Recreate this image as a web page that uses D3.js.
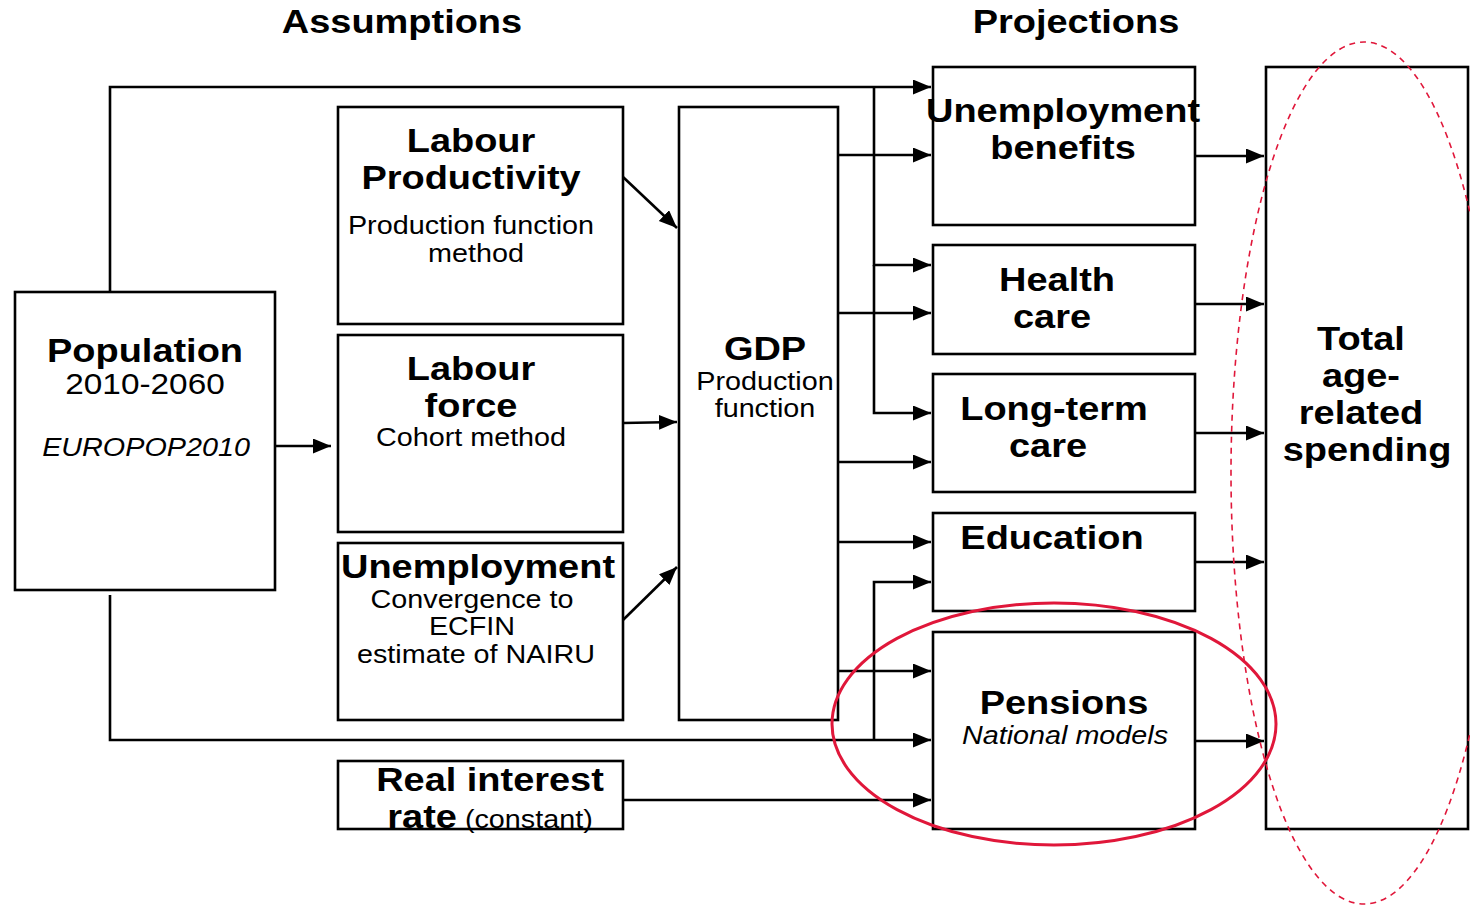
<!DOCTYPE html>
<html><head><meta charset="utf-8">
<script src="https://cdn.jsdelivr.net/npm/d3@7"></script>
<style>html,body{margin:0;padding:0;background:#fff;}svg{display:block;font-family:"Liberation Sans",Arial,sans-serif;}</style>
</head><body>
<svg id="chart" width="1470" height="905"></svg>
<script>
// ---- data ----
const headings = ["Assumptions", "Projections"];
const assumptionNodes = ["Population", "Labour Productivity", "Labour force", "Unemployment", "Real interest rate"];
const coreNodes = ["GDP"];
const projectionNodes = ["Unemployment benefits", "Health care", "Long-term care", "Education", "Pensions"];
const totalNode = ["Total age-related spending"];
// links: [from, to]
const links = [
  ["Population", "Labour force"], ["Population", "Unemployment benefits"], ["Population", "Health care"],
  ["Population", "Long-term care"], ["Population", "Pensions"], ["Population", "Education"],
  ["Labour Productivity", "GDP"], ["Labour force", "GDP"], ["Unemployment", "GDP"],
  ["GDP", "Unemployment benefits"], ["GDP", "Health care"], ["GDP", "Long-term care"], ["GDP", "Education"], ["GDP", "Pensions"],
  ["Real interest rate", "Pensions"],
  ["Unemployment benefits", "Total age-related spending"], ["Health care", "Total age-related spending"],
  ["Long-term care", "Total age-related spending"], ["Education", "Total age-related spending"], ["Pensions", "Total age-related spending"]
];
// text lines per node: [text, weight, style, size]
const nodeText = {
  "Population": [[["Population","bold","normal",33]],[["2010-2060","normal","normal",29]],[["EUROPOP2010","normal","italic",25]]],
  "Labour Productivity": [[["Labour","bold","normal",33]],[["Productivity","bold","normal",33]],[["Production function","normal","normal",25]],[["method","normal","normal",25]]],
  "Labour force": [[["Labour","bold","normal",33]],[["force","bold","normal",33]],[["Cohort method","normal","normal",25]]],
  "Unemployment": [[["Unemployment","bold","normal",33]],[["Convergence to","normal","normal",25]],[["ECFIN","normal","normal",25]],[["estimate of NAIRU","normal","normal",25]]],
  "Real interest rate": [[["Real interest","bold","normal",33]],[["rate","bold","normal",33],[" (constant)","normal","normal",25]]],
  "GDP": [[["GDP","bold","normal",33]],[["Production","normal","normal",25]],[["function","normal","normal",25]]],
  "Unemployment benefits": [[["Unemployment","bold","normal",33]],[["benefits","bold","normal",33]]],
  "Health care": [[["Health","bold","normal",33]],[["care","bold","normal",33]]],
  "Long-term care": [[["Long-term","bold","normal",33]],[["care","bold","normal",33]]],
  "Education": [[["Education","bold","normal",33]]],
  "Pensions": [[["Pensions","bold","normal",33]],[["National models","normal","italic",25]]],
  "Total age-related spending": [[["Total","bold","normal",33]],[["age-","bold","normal",33]],[["related","bold","normal",33]],[["spending","bold","normal",33]]]
};

// ---- layout (positions) ----
const boxes = {
  "Population": [15,292,275,590],
  "Labour Productivity": [338,107,623,324],
  "Labour force": [338,335,623,532],
  "Unemployment": [338,543,623,720],
  "Real interest rate": [338,761,623,829],
  "GDP": [679,107,838,720],
  "Unemployment benefits": [933,67,1195,225],
  "Health care": [933,245,1195,354],
  "Long-term care": [933,374,1195,492],
  "Education": [933,513,1195,611],
  "Pensions": [933,632,1195,829],
  "Total age-related spending": [1266,67,1468,829]
};
// text line anchors [cx, baseline]
const textPos = {
  "Population": [[145,362],[145,394],[146,456]],
  "Labour Productivity": [[471,152],[471,189],[471,234],[476,262]],
  "Labour force": [[471,380],[471,417],[471,446]],
  "Unemployment": [[478,578],[472,608],[472,635],[476,663]],
  "Real interest rate": [[490,791],[490,828]],
  "GDP": [[765,360],[765,390],[765,417]],
  "Unemployment benefits": [[1063,122],[1063,159]],
  "Health care": [[1057,291],[1052,328]],
  "Long-term care": [[1054,420],[1048,457]],
  "Education": [[1052,549]],
  "Pensions": [[1064,714],[1065,744]],
  "Total age-related spending": [[1361,350],[1361,387],[1361,424],[1367,461]]
};
const headingPos = [[402,33],[1076,33]];
const linkPaths = [
  [[275,446],[331,446]],
  [[110,292],[110,87],[931,87]],
  [[874,87],[874,265],[931,265]],
  [[874,265],[874,413],[931,413]],
  [[110,595],[110,740],[931,740]],
  [[874,740],[874,582],[931,582]],
  [[623,177],[677,228]],
  [[623,423],[677,422]],
  [[623,620],[677,567]],
  [[838,155],[931,155]],
  [[838,313],[931,313]],
  [[838,462],[931,462]],
  [[838,542],[931,542]],
  [[838,671],[931,671]],
  [[623,800],[931,800]],
  [[1195,156],[1264,156]],
  [[1195,304],[1264,304]],
  [[1195,433],[1264,433]],
  [[1195,562],[1264,562]],
  [[1195,741],[1264,741]]
];
const SX = 1.15;

const svg = d3.select("#chart");
const defs = svg.append("defs");
defs.append("marker").attr("id","arr").attr("markerUnits","userSpaceOnUse")
  .attr("markerWidth",19).attr("markerHeight",16).attr("refX",18).attr("refY",7.5)
  .attr("orient","auto")
  .append("path").attr("d","M0,0L18,7.5L0,15Z").attr("fill","#000");

// boxes
const allNodes = [...assumptionNodes, ...coreNodes, ...projectionNodes, ...totalNode];
svg.append("g").selectAll("rect").data(allNodes).join("rect")
  .attr("x", d => boxes[d][0]).attr("y", d => boxes[d][1])
  .attr("width", d => boxes[d][2]-boxes[d][0]).attr("height", d => boxes[d][3]-boxes[d][1])
  .attr("fill","none").attr("stroke","#000").attr("stroke-width",2.6);

// links
const line = d3.line();
svg.append("g").selectAll("path").data(linkPaths).join("path")
  .attr("d", d => line(d)).attr("fill","none").attr("stroke","#000").attr("stroke-width",2.6)
  .attr("marker-end","url(#arr)");

// text
function drawLine(g, spans, cx, y) {
  const t = g.append("text").attr("transform", `translate(${cx},${y}) scale(${SX},1)`)
    .attr("text-anchor","middle").attr("fill","#000");
  spans.forEach(s => t.append("tspan").text(s[0]).attr("font-weight",s[1]).attr("font-style",s[2]).attr("font-size",s[3]).attr("xml:space","preserve").style("white-space","pre"));
}
const tg = svg.append("g");
allNodes.forEach(n => nodeText[n].forEach((spans,i) => drawLine(tg, spans, textPos[n][i][0], textPos[n][i][1])));
headings.forEach((h,i) => drawLine(tg, [[h,"bold","normal",33]], headingPos[i][0], headingPos[i][1]));

// highlight ellipses
svg.append("ellipse").attr("cx",1054).attr("cy",724).attr("rx",222).attr("ry",121)
  .attr("fill","none").attr("stroke","#e0173a").attr("stroke-width",3);
svg.append("ellipse").attr("cx",1364).attr("cy",473).attr("rx",133).attr("ry",431)
  .attr("fill","none").attr("stroke","#e0173a").attr("stroke-width",1.6).attr("stroke-dasharray","6,5");
</script>
</body></html>
